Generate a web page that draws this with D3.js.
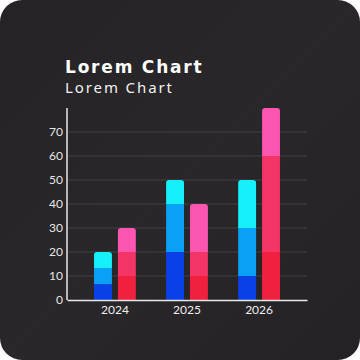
<!DOCTYPE html>
<html>
<head>
<meta charset="utf-8">
<script src="https://cdn.jsdelivr.net/npm/d3@7"></script>
<style>
  html, body { margin: 0; padding: 0; background: #fff; }
  svg { display: block; }
</style>
</head>
<body>
<div id="chart"></div>
<script>
// données du graphique
const years = ["2024", "2025", "2026"];
const blueStack = [
  [6.6, 6.7, 6.7],   // 2024
  [20, 20, 10],      // 2025
  [10, 20, 20]       // 2026
];
const redStack = [
  [10, 10, 10],
  [10, 10, 20],
  [20, 40, 20]
];
const yTicks = [0, 10, 20, 30, 40, 50, 60, 70];

const blueColors = ["#0a40e8", "#0aa0f5", "#15f0fa"];
const redColors = ["#f0213f", "#f23566", "#fa55b0"];

const width = 360, height = 360;

const svg = d3.select("#chart")
  .append("svg")
  .attr("width", width)
  .attr("height", height);

// fond avec dégradé léger
const defs = svg.append("defs");
const grad = defs.append("linearGradient")
  .attr("id", "bg")
  .attr("x1", "0").attr("y1", "0").attr("x2", "1").attr("y2", "1");
grad.append("stop").attr("offset", "0%").attr("stop-color", "#252326");
grad.append("stop").attr("offset", "50%").attr("stop-color", "#29272a");
grad.append("stop").attr("offset", "100%").attr("stop-color", "#242225");

svg.append("rect")
  .attr("width", width)
  .attr("height", height)
  .attr("rx", 22)
  .attr("fill", "url(#bg)");

// titres
svg.append("text")
  .attr("x", 65).attr("y", 73)
  .attr("fill", "#ffffff")
  .style("font-family", "'DejaVu Sans', sans-serif")
  .style("font-weight", "700")
  .style("font-size", "17px")
  .style("letter-spacing", "1.8px")
  .text("Lorem Chart");

svg.append("text")
  .attr("x", 65).attr("y", 93)
  .attr("fill", "#f2f2f2")
  .style("font-family", "'Noto Sans', sans-serif")
  .style("font-weight", "400")
  .style("font-size", "15px")
  .style("letter-spacing", "1.9px")
  .text("Lorem Chart");

// échelles
const x = d3.scaleBand()
  .domain(years)
  .range([67, 307])
  .paddingInner(0.42)
  .paddingOuter(0.375);

const sub = d3.scaleBand()
  .domain(["blue", "red"])
  .range([0, x.bandwidth()])
  .paddingInner(0.25);

const y = d3.scaleLinear()
  .domain([0, 80])
  .range([300, 108]);

// grille
svg.append("g")
  .selectAll("line")
  .data(yTicks.slice(1))
  .join("line")
  .attr("x1", 67).attr("x2", 307)
  .attr("y1", d => y(d)).attr("y2", d => y(d))
  .attr("stroke", "#4a484b")
  .attr("stroke-width", 0.8);

// axe Y
const yAxis = svg.append("g")
  .attr("transform", "translate(67,0)")
  .call(d3.axisLeft(y).tickValues(yTicks).tickSize(0).tickPadding(4));
yAxis.select(".domain").remove();
yAxis.selectAll("text")
  .attr("fill", "#e6e6e6")
  .style("font-family", "Lato, sans-serif")
  .style("font-size", "12px");

svg.append("line")
  .attr("x1", 67).attr("x2", 67)
  .attr("y1", y(80)).attr("y2", y(0))
  .attr("stroke", "#e8e8e8")
  .attr("stroke-width", 1.5);

// barres empilées
function stackSegments(values) {
  let acc = 0;
  return values.map((v, i) => {
    const seg = { y0: acc, y1: acc + v, i: i, last: i === values.length - 1 };
    acc += v;
    return seg;
  });
}

function segPath(x0, w, top, bottom, r) {
  // coins arrondis en haut uniquement
  return `M${x0},${bottom}V${top + r}Q${x0},${top} ${x0 + r},${top}` +
    `H${x0 + w - r}Q${x0 + w},${top} ${x0 + w},${top + r}V${bottom}Z`;
}

years.forEach((yr, k) => {
  [["blue", blueStack[k], blueColors], ["red", redStack[k], redColors]].forEach(([key, vals, cols]) => {
    const bx = x(yr) + sub(key);
    const bw = sub.bandwidth();
    svg.append("g")
      .selectAll("path")
      .data(stackSegments(vals))
      .join("path")
      .attr("d", d => segPath(bx, bw, y(d.y1), y(d.y0), d.last ? 3 : 0))
      .attr("fill", d => cols[d.i]);
  });
});

// axe X
const xAxis = svg.append("g")
  .attr("transform", "translate(0,300)")
  .call(d3.axisBottom(x).tickSize(0).tickPadding(5));
xAxis.select(".domain")
  .attr("stroke", "#e8e8e8")
  .attr("stroke-width", 1.5);
xAxis.selectAll("text")
  .attr("fill", "#f0f0f0")
  .style("font-family", "Lato, sans-serif")
  .style("font-size", "12px");
</script>
</body>
</html>
